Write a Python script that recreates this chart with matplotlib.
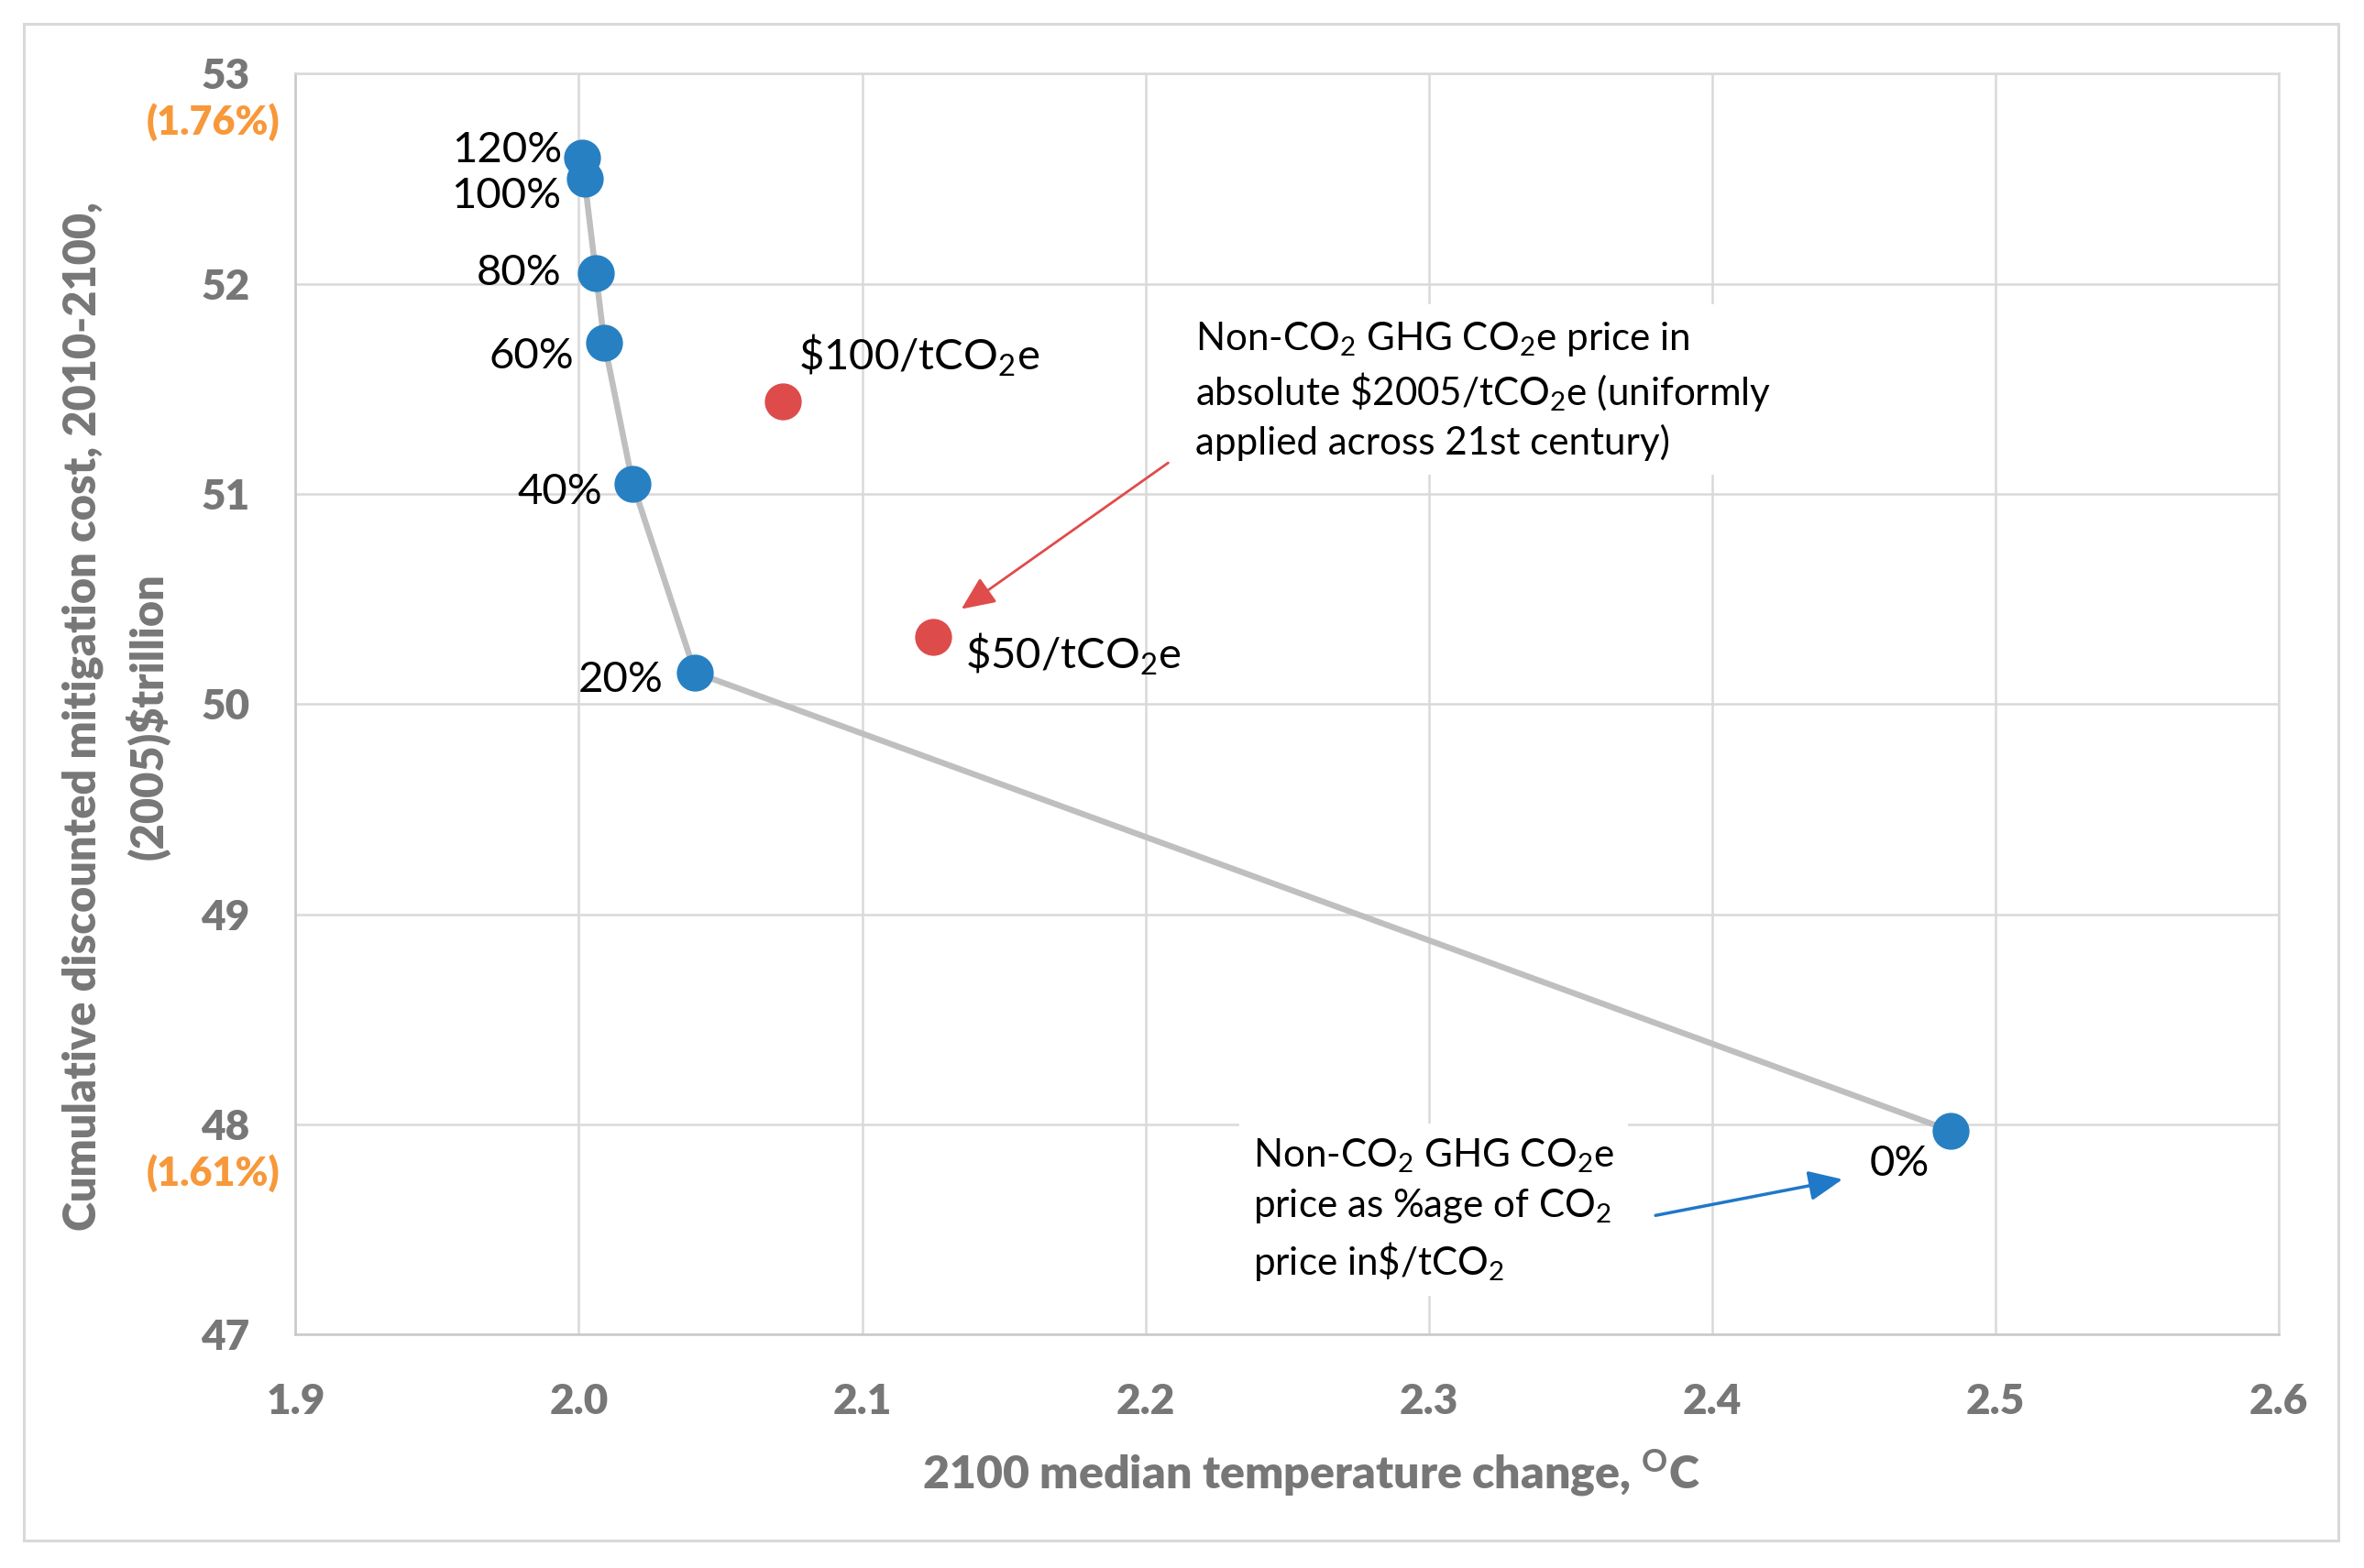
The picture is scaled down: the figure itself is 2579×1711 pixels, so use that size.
import matplotlib
matplotlib.use("Agg")
import matplotlib.pyplot as plt
from matplotlib.patches import Rectangle
from matplotlib.ticker import FormatStrFormatter

# Data
share_labels = ["0%", "20%", "40%", "60%", "80%", "100%", "120%"]
share_temp = [2.484, 2.041, 2.019, 2.009, 2.006, 2.002, 2.001]
share_cost = [47.97, 50.15, 51.05, 51.72, 52.05, 52.50, 52.60]
# label offsets (points) for each share label
share_offsets = [(-40, -26), (-25, -6), (-24, -7), (-24, -11), (-27, 0), (-18, -14), (-15, 6)]
share_ha = ["center", "right", "right", "right", "right", "right", "right"]

abs_labels = [r"\$100/tCO$_2$e", r"\$50/tCO$_2$e"]
abs_temp = [2.072, 2.125]
abs_cost = [51.44, 50.32]
abs_offsets = [(12, 36), (25, -14)]

pct_ticks = [53, 48]
pct_labels = ["(1.76%)", "(1.61%)"]

x_ticks = [1.9, 2.0, 2.1, 2.2, 2.3, 2.4, 2.5, 2.6]
y_ticks = [47, 48, 49, 50, 51, 52, 53]

BLUE = "#2680C2"
RED = "#DD4B4B"
GREY_TXT = "#777777"
ORANGE = "#F7983A"
GRID = "#D9D9D9"

plt.rcParams["font.family"] = ["Lato", "DejaVu Sans"]
plt.rcParams["mathtext.fontset"] = "custom"
plt.rcParams["mathtext.rm"] = "Lato"
plt.rcParams["mathtext.it"] = "Lato:italic"
plt.rcParams["mathtext.bf"] = "Lato:bold"

fig = plt.figure(figsize=(25.79, 17.11), dpi=100)
ax = fig.add_axes([0.125, 0.149, 0.839, 0.804])

# outer chart border
fig.patches.append(Rectangle((0.010, 0.0175), 0.979, 0.9675, transform=fig.transFigure,
                             fill=False, edgecolor=GRID, linewidth=2.2))

ax.plot(share_temp, share_cost, color="#BFBFBF", linewidth=4.7, zorder=2)
ax.plot(share_temp, share_cost, linestyle="none", marker="o", markersize=28,
        color=BLUE, zorder=3)
ax.plot(abs_temp, abs_cost, linestyle="none", marker="o", markersize=28,
        color=RED, zorder=3)

for lab, x, y, off, ha in zip(share_labels, share_temp, share_cost, share_offsets, share_ha):
    ax.annotate(lab, (x, y), xytext=off, textcoords="offset points",
                ha=ha, va="center", fontsize=34, color="black", zorder=4)

for lab, x, y, off in zip(abs_labels, abs_temp, abs_cost, abs_offsets):
    ax.annotate(lab, (x, y), xytext=off, textcoords="offset points",
                ha="left", va="center", fontsize=34, color="black", zorder=4)

ax.set_xlim(1.9, 2.6)
ax.set_ylim(47, 53)
ax.set_xticks(x_ticks)
ax.set_yticks(y_ticks)
ax.xaxis.set_major_formatter(FormatStrFormatter("%.1f"))
ax.grid(True, color=GRID, linewidth=1.8, zorder=0)
ax.set_axisbelow(True)
for sp in ax.spines.values():
    sp.set_color(GRID)
    sp.set_linewidth(1.8)
ax.spines["bottom"].set_color("#C8C8C8")
ax.spines["left"].set_color("#C8C8C8")
ax.tick_params(length=0, labelsize=33, labelcolor=GREY_TXT, pad=36)
ax.tick_params(axis="x", pad=38)
for t in ax.get_xticklabels() + ax.get_yticklabels():
    t.set_fontweight("heavy")

# orange percentage notes under two y ticks
for yv, lab in zip(pct_ticks, pct_labels):
    ax.annotate(lab, (0, yv), xycoords=ax.get_yaxis_transform(), xytext=(-65, -38),
                textcoords="offset points", ha="center", va="center",
                fontsize=31, fontweight="heavy", color=ORANGE, annotation_clip=False)

ax.set_xlabel(r"2100 median temperature change, $^{\mathbf{O}}$C",
              fontsize=36, fontweight="heavy", color=GREY_TXT)
ax.xaxis.set_label_coords(0.512, -0.090)

# y axis title, two lines
ylab_lines = ["Cumulative discounted mitigation cost, 2010-2100,", "(2005)$trillion"]
for xf, line in zip([-0.1075, -0.0745], ylab_lines):
    ax.text(xf, 0.49, line, transform=ax.transAxes, rotation=90,
            rotation_mode="anchor", ha="center", va="center",
            fontsize=35, fontweight="heavy", color=GREY_TXT)

box = dict(boxstyle="square,pad=0.35", facecolor="white", edgecolor="none")
ax.text(2.2177, 51.83,
        "Non-CO$_2$ GHG CO$_2$e price in\n"
        r"absolute \$2005/tCO$_2$e (uniformly" "\n"
        "applied across 21st century)",
        ha="left", va="top", fontsize=30.3, linespacing=1.36, bbox=box, zorder=5)
ax.text(2.238, 47.94,
        "Non-CO$_2$ GHG CO$_2$e\n"
        "price as %age of CO$_2$\n"
        r"price in\$/tCO$_2$",
        ha="left", va="top", fontsize=30.3, linespacing=1.4, bbox=box, zorder=5)

ax.annotate("", xy=(2.135, 50.452), xytext=(2.208, 51.148),
            arrowprops=dict(arrowstyle="-|>,head_length=0.9,head_width=0.4",
                            mutation_scale=25, color="#E04B4B", linewidth=2.0,
                            shrinkA=0, shrinkB=0), zorder=4)
ax.annotate("", xy=(2.446, 47.738), xytext=(2.380, 47.566),
            arrowprops=dict(arrowstyle="-|>,head_length=0.9,head_width=0.4",
                            mutation_scale=25, color="#1F78C8", linewidth=2.5,
                            shrinkA=0, shrinkB=0), zorder=4)

fig.savefig("out.png", dpi=100, facecolor="white")
